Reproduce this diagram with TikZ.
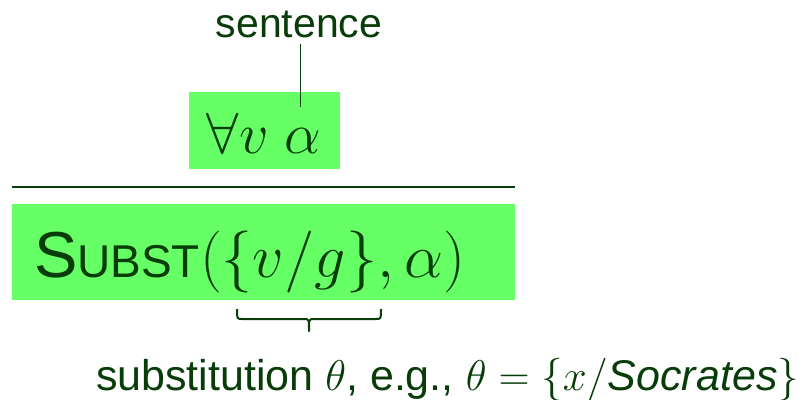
\RequirePackage{fix-cm}
\documentclass[tikz,border=0pt]{standalone}
\usepackage[no-math]{fontspec}
\setmainfont{Liberation Sans}
\definecolor{dg}{RGB}{8,60,8}
\definecolor{lg}{RGB}{102,255,102}
\begin{document}
\begin{tikzpicture}[x=1pt,y=-1pt,
  every node/.style={inner sep=0pt, outer sep=0pt, text=dg},
  box/.style={fill=lg, anchor=north west},
  rulestyle/.style={draw=dg, line width=1.7pt},
  conn/.style={draw=dg, line width=1.5pt},
  bracestyle/.style={draw=dg, line width=2pt, line join=round}]
\useasboundingbox (0,0) rectangle (799,399);
% boxes
\node[box, minimum width=151pt, minimum height=77pt] (b1) at (189,92) {};
\node[box, minimum width=503pt, minimum height=96pt] (b2) at (12,204) {};
% texts
\node[anchor=base, font=\fontsize{41}{48}\selectfont] (sent) at (299,37) {sentence};
\node[anchor=base, font=\fontsize{58}{62}\selectfont] (formula) at (264,153) {$\forall v\;\alpha$};
\node[anchor=base west] (subst) at (34,277) {\fontsize{65}{70}\selectfont S{\fontsize{46}{50}\selectfont UBST}{\fontsize{62}{66}\selectfont$(\{v/g\},\alpha)$}};
\node[anchor=base west, font=\fontsize{43}{48}\selectfont] (sub) at (96,390) {substitution $\theta$, e.g., $\theta = \{x/\textit{Socrates}\}$};
% rule
\coordinate (rl) at (12,187);
\coordinate (rr) at (515,187);
\draw[rulestyle] (rl) -- (rr);
% connector
\coordinate (tip) at (300.5,107);
\draw[conn, shorten <=7pt] (tip |- sent.south) -- (tip);
% brace
\coordinate (bl) at (237,309);
\coordinate (br) at (381,309);
\coordinate (bm) at (309,331);
\draw[bracestyle] (bl) .. controls (237,319) .. (242,319) -- (304,319)
  .. controls (309,319) .. (bm) .. controls (309,319) .. (314,319) -- (376,319)
  .. controls (381,319) .. (br);
\end{tikzpicture}
\end{document}
